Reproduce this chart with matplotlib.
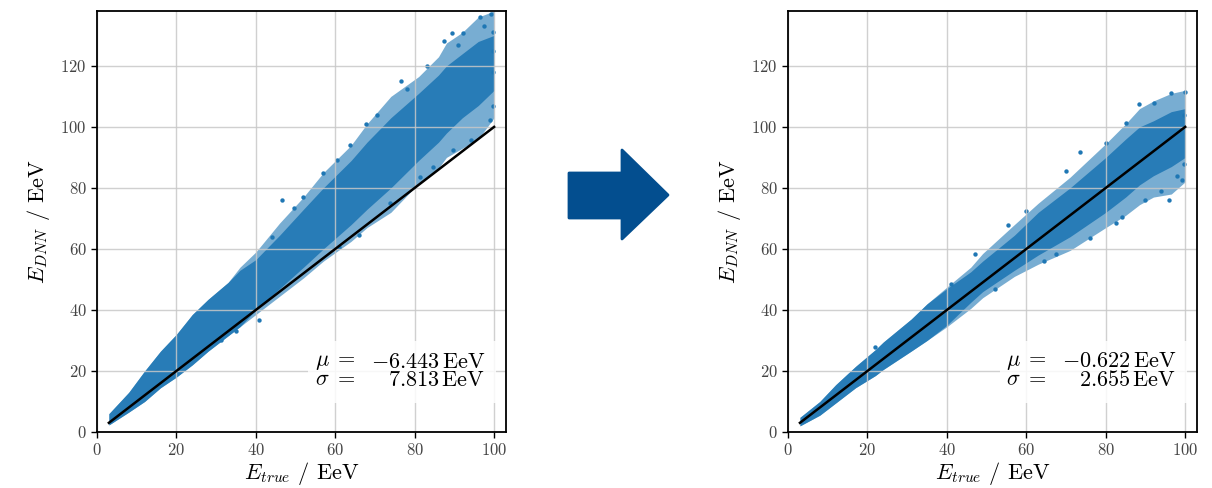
import matplotlib
matplotlib.use("Agg")
import matplotlib.pyplot as plt
from matplotlib.patches import Polygon, Rectangle

plt.rcParams['font.family'] = 'serif'
plt.rcParams['font.serif'] = ['cmr10']
plt.rcParams['mathtext.fontset'] = 'cm'
plt.rcParams['axes.formatter.use_mathtext'] = True

BLUE = '#1f77b4'

# --- before the correction: spread of E_DNN versus E_true ---
before_x = [3, 8, 12, 16, 20, 24, 28, 33, 36, 40, 46, 52, 57, 64, 68, 74, 81, 86, 88, 92, 96, 100]
before_hi = [6, 13, 20, 26.5, 32, 38.5, 43.5, 49, 54, 59, 68.5, 77, 85, 94, 101, 110, 116.5, 123, 127.5, 131, 136, 138]
before_lo = [2.3, 6.5, 10, 14.5, 18, 22, 26.5, 31.5, 34.5, 38.5, 44.5, 50.5, 56, 62.5, 67, 72, 81.5, 86.5, 90, 93, 96, 103]
before_core_hi = [6, 13, 20, 26.5, 32, 38.5, 43.5, 49, 53, 56.5, 64.5, 73, 80, 89, 95, 103, 111, 117, 120, 124, 128, 130]
before_core_lo = [2.3, 6.5, 10, 14.5, 18, 22, 26.5, 31.5, 34.5, 40, 47, 54, 60, 68, 73, 80, 89, 95, 98, 103, 107, 112]
before_dots_x = [40.8, 73.7, 46.5, 87.3, 89.3, 99.3, 96.4, 92.2, 81.3, 84.6, 89.7, 94.3, 98.9,
                 76.5, 63.6, 67.8, 56.9, 52.0, 99.6, 99.6, 99.6, 31.2, 35.0, 44.0, 49.5, 60.5,
                 70.5, 78.0, 83.0, 91.0, 97.5, 99.6, 61.0, 66.0]
before_dots_y = [36.7, 74.9, 76.0, 128.0, 130.7, 137.0, 136.0, 130.7, 83.6, 86.9, 92.4, 95.7, 102.3,
                 115.0, 94.0, 101.0, 84.8, 77.0, 107.0, 118.0, 125.0, 30.0, 33.0, 64.0, 73.5, 89.0,
                 104.0, 112.5, 120.0, 127.0, 133.0, 131.0, 60.5, 64.5]
before_mu = -6.443
before_sigma = 7.813

# --- after the correction ---
after_x = [3, 8, 12, 17, 22, 24, 31, 35, 40, 46, 49, 57, 63, 71, 80, 85, 88.5, 92, 96.5, 100]
after_hi = [4.8, 10, 15.5, 21.5, 27, 29.5, 37, 42, 47.5, 54, 58.5, 68, 75, 83.5, 94.5, 101, 106, 108.5, 111, 112]
after_lo = [2, 5.5, 9.5, 14.5, 18.5, 20.5, 26.5, 30, 34.5, 40.5, 44, 51, 55, 59.5, 67, 71, 74.5, 77, 78, 82]
after_core_hi = [4.8, 10, 15.5, 21.5, 27, 29.5, 37, 42, 47, 52.5, 56, 64.5, 72, 80, 90, 96, 100, 102, 105, 106]
after_core_lo = [2, 5.5, 9.5, 14.5, 18.5, 20.5, 26.5, 30, 35, 42.5, 46, 53, 58, 64, 72, 77, 81, 84, 87, 90]
after_dots_x = [73.4, 95.9, 99.2, 96.4, 100.0, 88.4, 92.2, 47.0, 21.9, 60.0, 55.5, 80.1, 85.2,
                84.2, 90.0, 67.4, 99.6, 99.6, 76.0, 82.5, 94.0, 98.0, 64.5, 70.0, 52.0, 41.0]
after_dots_y = [91.9, 76.2, 82.6, 111.2, 111.6, 107.4, 108.0, 58.5, 27.8, 72.5, 68.0, 94.6, 101.2,
                70.5, 76.0, 58.5, 88.0, 104.0, 63.5, 68.5, 79.0, 84.0, 56.0, 85.5, 47.0, 48.5]
after_mu = -0.622
after_sigma = 2.655

ticks = [0, 20, 40, 60, 80, 100]
yticks = [0, 20, 40, 60, 80, 100, 120]


def draw_panel(ax, x, lo, hi, core_lo, core_hi, dx, dy, mu, sigma):
    ax.fill_between(x, lo, hi, color=BLUE, alpha=0.6, lw=0, zorder=1)
    ax.fill_between(x, core_lo, core_hi, color=BLUE, alpha=0.9, lw=0, zorder=1.1)
    ax.scatter(dx, dy, s=10, color=BLUE, lw=0, zorder=1.2)
    ax.plot([3, 100], [3, 100], color='black', lw=1.8, zorder=3)

    ax.set_xlim(0, 103)
    ax.set_ylim(0, 138)
    ax.set_xticks(ticks)
    ax.set_yticks(yticks)
    ax.grid(True, color='#c8c8c8', lw=1.0, alpha=0.85, zorder=2.5)
    ax.set_axisbelow(False)
    ax.tick_params(labelsize=12, labelcolor='#444444', length=4.5, width=1, pad=3)
    for sp in ax.spines.values():
        sp.set_linewidth(1.3)
        sp.set_zorder(5)

    ax.set_xlabel(r'$E_{true}$ / EeV', fontsize=16, labelpad=1)
    ax.set_ylabel(r'$E_{DNN}$ / EeV', fontsize=16, labelpad=6)

    # white box behind the statistics
    ax.add_patch(Rectangle((0.517, 0.07), 0.458, 0.145, transform=ax.transAxes,
                           facecolor='white', edgecolor='none', alpha=0.85, zorder=4))
    ax.text(0.533, 0.110, '$\\mu\\;=$\n$\\sigma\\;=$', transform=ax.transAxes, fontsize=16,
            ha='left', va='baseline', linespacing=0.9, zorder=6)
    ax.text(0.949, 0.110, '$%.3f\\,\\mathrm{EeV}$\n$%.3f\\,\\mathrm{EeV}$' % (mu, sigma),
            transform=ax.transAxes, fontsize=16, ha='right', va='baseline',
            multialignment='right', linespacing=0.9, zorder=6)


fig = plt.figure(figsize=(12.12, 4.88), dpi=100)
ax1 = fig.add_axes([0.0800, 0.1148, 0.3375, 0.8627])
ax2 = fig.add_axes([0.6502, 0.1148, 0.3375, 0.8627])

draw_panel(ax1, before_x, before_lo, before_hi, before_core_lo, before_core_hi,
           before_dots_x, before_dots_y, before_mu, before_sigma)
draw_panel(ax2, after_x, after_lo, after_hi, after_core_lo, after_core_hi,
           after_dots_x, after_dots_y, after_mu, after_sigma)

# arrow between the two panels, outline given in pixels
W, H = 1212, 488
arrow_px = [(569, 173), (622, 173), (622, 150), (668, 195), (622, 239), (622, 218), (569, 218)]
arrow = Polygon([(px / W, 1 - py / H) for px, py in arrow_px], closed=True,
                transform=fig.transFigure, facecolor='#034e8f', edgecolor='#034e8f',
                lw=2, joinstyle='round')
fig.patches.append(arrow)

fig.savefig('out.png', dpi=100)
